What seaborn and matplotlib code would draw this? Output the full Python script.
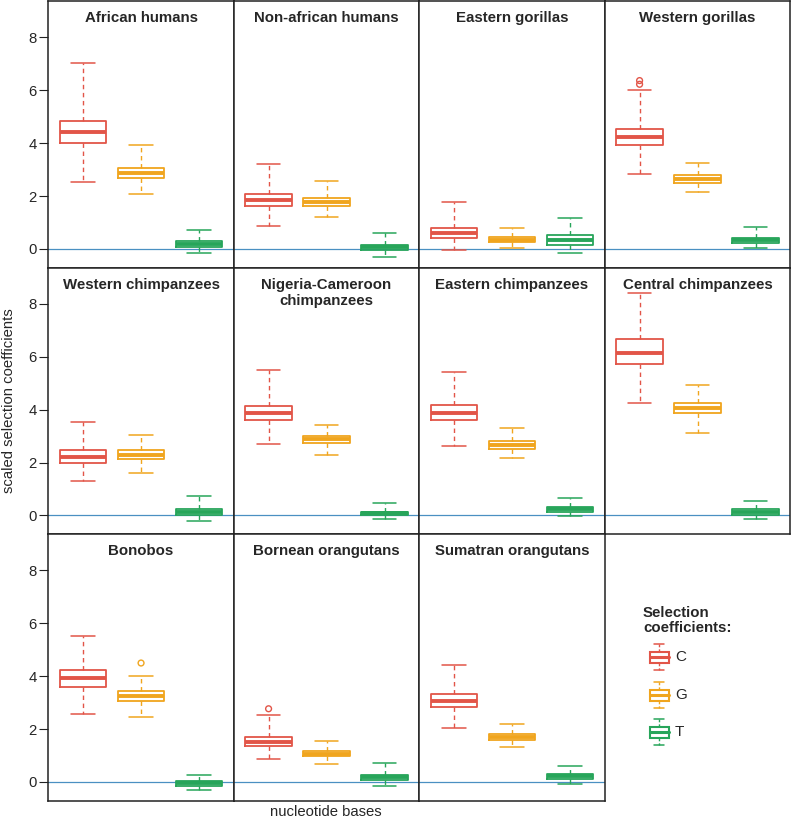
import numpy as np
import pandas as pd
import matplotlib
matplotlib.use("Agg")
import matplotlib.pyplot as plt
from matplotlib.patches import Rectangle
from matplotlib.lines import Line2D
import seaborn as sns

# ---------------- data ----------------
species = ["African humans", "Non-african humans", "Eastern gorillas", "Western gorillas",
           "Western chimpanzees", "Nigeria-Cameroon\nchimpanzees", "Eastern chimpanzees",
           "Central chimpanzees", "Bonobos", "Bornean orangutans", "Sumatran orangutans"]
bases = ["C", "G", "T"]

C_low  = [2.53, 0.86, -0.05, 2.82, 1.31, 2.70, 2.61, 4.27, 2.57, 0.88, 2.05]
C_q1   = [4.01, 1.61, 0.43, 3.95, 1.99, 3.62, 3.60, 5.72, 3.59, 1.35, 2.84]
C_med  = [4.42, 1.85, 0.62, 4.24, 2.22, 3.89, 3.89, 6.15, 3.92, 1.53, 3.08]
C_q3   = [4.86, 2.08, 0.81, 4.52, 2.46, 4.14, 4.17, 6.67, 4.25, 1.70, 3.32]
C_high = [7.05, 3.20, 1.78, 6.00, 3.54, 5.49, 5.42, 8.43, 5.52, 2.54, 4.44]

G_low  = [2.08, 1.20, 0.03, 2.14, 1.62, 2.29, 2.17, 3.11, 2.47, 0.67, 1.31]
G_q1   = [2.67, 1.63, 0.25, 2.51, 2.14, 2.74, 2.53, 3.87, 3.08, 0.97, 1.60]
G_med  = [2.89, 1.77, 0.35, 2.65, 2.29, 2.88, 2.67, 4.06, 3.27, 1.07, 1.72]
G_q3   = [3.08, 1.91, 0.44, 2.78, 2.46, 2.99, 2.80, 4.25, 3.44, 1.17, 1.83]
G_high = [3.92, 2.57, 0.81, 3.27, 3.04, 3.41, 3.31, 4.94, 4.02, 1.56, 2.20]

T_low  = [-0.15, -0.29, -0.14, 0.02, -0.19, -0.14, -0.03, -0.14, -0.32, -0.14, -0.09]
T_q1   = [0.06, -0.04, 0.16, 0.24, 0.03, 0.00, 0.15, 0.03, -0.14, 0.06, 0.11]
T_med  = [0.17, 0.06, 0.35, 0.33, 0.14, 0.08, 0.24, 0.12, -0.05, 0.17, 0.22]
T_q3   = [0.29, 0.16, 0.52, 0.42, 0.25, 0.15, 0.33, 0.23, 0.04, 0.28, 0.32]
T_high = [0.73, 0.59, 1.16, 0.82, 0.74, 0.49, 0.66, 0.54, 0.27, 0.73, 0.61]

outlier_species = ["Western gorillas", "Western gorillas", "Bonobos", "Bornean orangutans"]
outlier_base    = ["C", "C", "G", "C"]
outlier_value   = [6.37, 6.23, 4.50, 2.77]

yticks = [0, 2, 4, 6, 8]

# ---------------- build tables ----------------
summ = {
    "C": [C_low, C_q1, C_med, C_q3, C_high],
    "G": [G_low, G_q1, G_med, G_q3, G_high],
    "T": [T_low, T_q1, T_med, T_q3, T_high],
}
rows = []
for i, sp in enumerate(species):
    for b in bases:
        for arr in summ[b]:
            rows.append((sp, b, arr[i]))
df = pd.DataFrame(rows, columns=["species", "base", "value"])
odf = pd.DataFrame({"species": outlier_species, "base": outlier_base, "value": outlier_value})

# ---------------- style ----------------
sns.set_style("white")
plt.rcParams["font.family"] = ["Liberation Sans", "DejaVu Sans"]
plt.rcParams["font.size"] = 10.7

pal = {"C": "#E25548", "G": "#F0A51E", "T": "#27A55A"}
hline_col = "#4A90C2"

fig, axes = plt.subplots(3, 4, figsize=(7.92, 8.23), dpi=100)
fig.subplots_adjust(left=48.3 / 792, right=790.3 / 792, top=1 - 1.0 / 823,
                    bottom=1 - 800.5 / 823, wspace=0, hspace=0)
axes[2, 3].remove()

for i, sp in enumerate(species):
    ax = axes[i // 4, i % 4]
    sub = df[df["species"] == sp]
    ax.axhline(0, color=hline_col, lw=0.9, zorder=0.5)
    sns.boxplot(data=sub, x="base", y="value", hue="base", order=bases, hue_order=bases,
                palette=pal, fill=False, whis=(0, 100), width=0.8, linewidth=1.3,
                medianprops=dict(linewidth=2.8),
                whiskerprops=dict(linestyle=(0, (3.2, 2.6)), linewidth=1.0),
                capprops=dict(linewidth=1.1),
                legend=False, ax=ax)
    osub = odf[odf["species"] == sp]
    if len(osub):
        n0 = len(ax.collections)
        sns.stripplot(data=osub, x="base", y="value", hue="base", order=bases,
                      hue_order=bases, palette=pal, jitter=False, size=4.2,
                      linewidth=1.0, legend=False, ax=ax, zorder=3)
        for coll in ax.collections[n0:]:
            fc = coll.get_facecolors()
            coll.set_edgecolors(fc)
            coll.set_facecolors("none")
    ax.set_xlim(-0.6, 2.6)
    ax.set_ylim(-0.70, 9.38)
    ax.set_xlabel("")
    ax.set_ylabel("")
    ax.set_yticks(yticks)
    ax.tick_params(axis="x", bottom=False, labelbottom=False)
    if i % 4 == 0:
        ax.tick_params(axis="y", left=True, labelleft=True, length=6.5, width=0.8,
                       pad=2, labelsize=10.7, color="#222222")
    else:
        ax.tick_params(axis="y", left=False, labelleft=False)
    for s in ax.spines.values():
        s.set_visible(True)
        s.set_linewidth(1.1)
        s.set_color("#222222")
    ax.text(0.5, 0.962, sp, transform=ax.transAxes, ha="center", va="top",
            fontsize=10.8, fontweight="bold", linespacing=1.18)

fig.text(326 / 792, 1 - 812 / 823, "nucleotide bases", ha="center", va="center", fontsize=10.7)
fig.text(9 / 792, 1 - 401 / 823, "scaled selection coefficients", ha="center", va="center",
         rotation=90, fontsize=10.7)

# ---------------- legend ----------------
fig.text(643 / 792, 1 - 606 / 823, "Selection\ncoefficients:", ha="left", va="top",
         fontsize=10.8, fontweight="bold", linespacing=1.12)
lax = fig.add_axes([0, 0, 1, 1], facecolor="none")
lax.set_xlim(0, 792)
lax.set_ylim(823, 0)
lax.axis("off")
for b, cy in zip(bases, [657, 695, 732]):
    cx = 659
    col = pal[b]
    lax.add_line(Line2D([cx, cx], [cy - 13, cy - 5.5], color=col, lw=1.0, ls=(0, (2, 1.5))))
    lax.add_line(Line2D([cx, cx], [cy + 5.5, cy + 13], color=col, lw=1.0, ls=(0, (2, 1.5))))
    lax.add_line(Line2D([cx - 5, cx + 5], [cy - 13, cy - 13], color=col, lw=1.1))
    lax.add_line(Line2D([cx - 5, cx + 5], [cy + 13, cy + 13], color=col, lw=1.1))
    lax.add_patch(Rectangle((cx - 9.5, cy - 5.5), 19, 11, fill=False, edgecolor=col, lw=1.5))
    lax.add_line(Line2D([cx - 9.5, cx + 9.5], [cy, cy], color=col, lw=2.2))
    lax.text(cx + 16, cy, b, ha="left", va="center", fontsize=11)

fig.savefig("out.png", dpi=100)
